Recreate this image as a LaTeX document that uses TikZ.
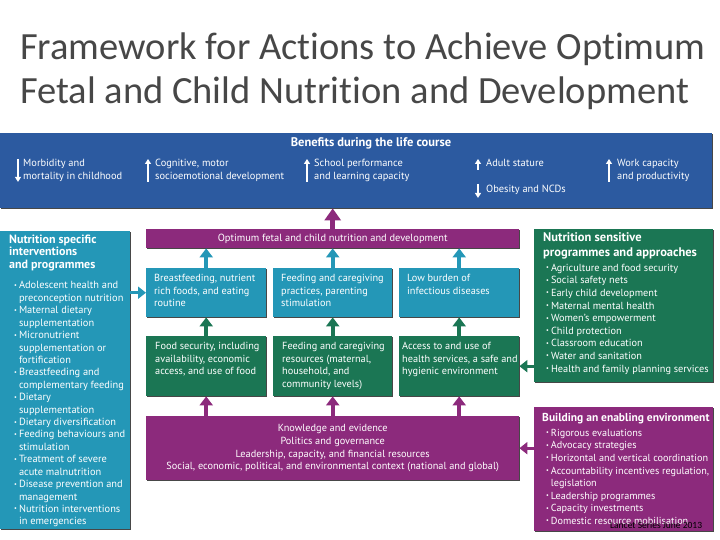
\documentclass[tikz,border=0pt]{standalone}
\usepackage{fontspec}
\setmainfont{PT Sans}
\newfontfamily\titlefont[Ligatures=NoCommon]{Carlito}
\usetikzlibrary{arrows.meta,shadows}

\definecolor{benblue}{RGB}{44,90,160}
\definecolor{nteal}{RGB}{36,151,183}
\definecolor{ngreen}{RGB}{27,118,84}
\definecolor{npurple}{RGB}{140,42,124}

\newcommand\bul{\raisebox{0.3ex}{\scalebox{0.6}{\textbullet}}}
\newcommand\hdr[2]{\multicolumn{2}{@{}l@{}}{\fontsize{#1}{12}\selectfont\bfseries #2}}

\begin{document}
\begin{tikzpicture}[x=1pt,y=-1pt,
  every node/.style={inner sep=0pt},
  panel/.style={rectangle, anchor=north west, drop shadow={shadow xshift=1.2pt,shadow yshift=-1.2pt,fill=black!80,opacity=0.9}},
  boxtext/.style={anchor=north west, text=white, align=left, font=\fontsize{10.3}{12.7}\selectfont},
  listtext/.style={anchor=north west, text=white},
  flow/.style={draw=#1, line width=3.6pt, -{Triangle[width=13pt,length=9pt,fill=#1]}},
  bigflow/.style={draw=#1, line width=5.5pt, -{Triangle[width=16pt,length=12pt,fill=#1]}},
  sideflow/.style={draw=#1, line width=3.4pt, -{Triangle[width=12pt,length=8pt,fill=#1]}},
  benarrow/.style={draw=white, line width=1.5pt, -{Triangle[width=6pt,length=5pt]}},
  bentext/.style={anchor=north west, text=white, align=left, font=\fontsize{10.4}{13}\selectfont}]

\useasboundingbox (0,0) rectangle (720,540);

\node[anchor=base west, font=\titlefont\fontsize{38.5}{44}\selectfont, text=black!72] (ttla) at (20,60) {Framework for Actions to Achieve Optimum};
\node[anchor=base west, font=\titlefont\fontsize{38.5}{44}\selectfont, text=black!72] (ttlb) at (20,104) {Fetal and Child Nutrition and Development};

\node[panel, fill=benblue, minimum width=712pt, minimum height=75pt] (life) at (0,133) {};
\node[font=\fontsize{12.5}{13}\selectfont\bfseries, text=white] (lifet) at (371,143) {Benefits during the life course};

\node[bentext] (morb) at (23,159) {Morbidity and\\mortality in childhood};
\node[bentext] (cogn) at (155,159) {Cognitive, motor\\socioemotional development};
\node[bentext] (school) at (314,159) {School performance\\and learning capacity};
\node[bentext] (stat) at (486,159) {Adult stature};
\node[bentext] (obes) at (486,185) {Obesity and NCDs};
\node[bentext] (work) at (617,159) {Work capacity\\and productivity};

\draw[benarrow] ([xshift=-5pt]morb.north west) -- ([xshift=-5pt]morb.south west);
\draw[benarrow] ([xshift=-7pt]cogn.south west) -- ([xshift=-7pt]cogn.north west);
\draw[benarrow] ([xshift=-7pt]school.south west) -- ([xshift=-7pt]school.north west);
\draw[benarrow] ([shift={(-8pt,-3pt)}]stat.south west) -- ([xshift=-8pt]stat.north west);
\draw[benarrow] ([shift={(-8pt,1pt)}]obes.north west) -- ([shift={(-8pt,-3pt)}]obes.south west);
\draw[benarrow] ([xshift=-8pt]work.south west) -- ([xshift=-8pt]work.north west);

\node[panel, fill=npurple, minimum width=373pt, minimum height=19pt, text=white, font=\fontsize{10.4}{12}\selectfont] (optbar) at (146,229) {Optimum fetal and child nutrition and development};

\node[panel, fill=nteal, minimum width=120pt, minimum height=49pt] (breast) at (146,268) {};
\node[panel, fill=nteal, minimum width=119pt, minimum height=49pt] (care) at (273,268) {};
\node[panel, fill=nteal, minimum width=120pt, minimum height=49pt] (burden) at (399,268) {};
\node[boxtext] (breastt) at ([shift={(8,6)}]breast.north west) {Breastfeeding, nutrient\\rich foods, and eating\\routine};
\node[boxtext] (caret) at ([shift={(8,6)}]care.north west) {Feeding and caregiving\\practices, parenting\\stimulation};
\node[boxtext] (burdent) at ([shift={(8,6)}]burden.north west) {Low burden of\\infectious diseases};

\node[panel, fill=ngreen, minimum width=120pt, minimum height=60pt] (food) at (146,336) {};
\node[panel, fill=ngreen, minimum width=119pt, minimum height=60pt] (resour) at (273,336) {};
\node[panel, fill=ngreen, minimum width=120pt, minimum height=60pt] (health) at (399,336) {};
\node[boxtext] (foodt) at ([shift={(9,6)}]food.north west) {Food security, including\\availability, economic\\access, and use of food};
\node[boxtext] (resourt) at ([shift={(9,6)}]resour.north west) {Feeding and caregiving\\resources (maternal,\\household, and\\community levels)};
\node[boxtext] (healtht) at ([shift={(3,6)}]health.north west) {Access to and use of\\health services, a safe and\\hygienic environment};

\node[panel, fill=npurple, minimum width=373pt, minimum height=64pt, align=center, text=white, font=\fontsize{10.3}{12.7}\selectfont] (context) at (146,416) {Knowledge and evidence\\Politics and governance\\Leadership, capacity, and financial resources\\Social, economic, political, and environmental context (national and global)};

\node[panel, fill=nteal, minimum width=130pt, minimum height=298pt] (specific) at (0,231) {};
\node[listtext, font=\fontsize{10.4}{12.42}\selectfont] (specifict) at ([shift={(9,3.3)}]specific.north west) {%
\begin{tabular}{@{}l@{\hspace{2pt}}l@{}}
\hdr{12}{Nutrition specific}\\
\hdr{12}{interventions}\\
\hdr{12}{and programmes}\\[8.5pt]
\hspace*{5pt}\bul & Adolescent health and\\
 & preconception nutrition\\
\hspace*{5pt}\bul & Maternal dietary\\
 & supplementation\\
\hspace*{5pt}\bul & Micronutrient\\
 & supplementation or\\
 & fortification\\
\hspace*{5pt}\bul & Breastfeeding and\\
 & complementary feeding\\
\hspace*{5pt}\bul & Dietary\\
 & supplementation\\
\hspace*{5pt}\bul & Dietary diversification\\
\hspace*{5pt}\bul & Feeding behaviours and\\
 & stimulation\\
\hspace*{5pt}\bul & Treatment of severe\\
 & acute malnutrition\\
\hspace*{5pt}\bul & Disease prevention and\\
 & management\\
\hspace*{5pt}\bul & Nutrition interventions\\
 & in emergencies
\end{tabular}};

\node[panel, fill=ngreen, minimum width=179pt, minimum height=153pt] (sensitive) at (534,229) {};
\node[listtext, font=\fontsize{10.3}{12.6}\selectfont] (sensitivet) at ([shift={(9,3.2)}]sensitive.north west) {%
\begin{tabular}{@{}l@{\hspace{2pt}}l@{}}
\hdr{12.5}{Nutrition sensitive}\\[2.4pt]
\hdr{12.5}{programmes and approaches}\\[2.4pt]
\hspace*{3pt}\bul & Agriculture and food security\\
\hspace*{3pt}\bul & Social safety nets\\
\hspace*{3pt}\bul & Early child development\\
\hspace*{3pt}\bul & Maternal mental health\\
\hspace*{3pt}\bul & Women’s empowerment\\
\hspace*{3pt}\bul & Child protection\\
\hspace*{3pt}\bul & Classroom education\\
\hspace*{3pt}\bul & Water and sanitation\\
\hspace*{3pt}\bul & Health and family planning services
\end{tabular}};

\node[panel, fill=npurple, minimum width=179pt, minimum height=124pt] (enabling) at (534,407) {};
\node[listtext, font=\fontsize{10.2}{12.6}\selectfont] (enablingt) at ([shift={(8,5.2)}]enabling.north west) {%
\begin{tabular}{@{}l@{\hspace{2pt}}l@{}}
\hdr{11.5}{Building an enabling environment}\\[2.4pt]
\hspace*{4pt}\bul & Rigorous evaluations\\
\hspace*{4pt}\bul & Advocacy strategies\\
\hspace*{4pt}\bul & Horizontal and vertical coordination\\
\hspace*{4pt}\bul & Accountability incentives regulation,\\
 & legislation\\
\hspace*{4pt}\bul & Leadership programmes\\
\hspace*{4pt}\bul & Capacity investments\\
\hspace*{4pt}\bul & Domestic resource mobilisation
\end{tabular}};

\draw[bigflow=npurple] (optbar.north) -- (optbar.north |- life.south);
\draw[flow=nteal] (breast.north) -- (breast.north |- optbar.south);
\draw[flow=nteal] (care.north) -- (care.north |- optbar.south);
\draw[flow=nteal] (burden.north) -- (burden.north |- optbar.south);
\draw[flow=ngreen] (food.north) -- (breast.south);
\draw[flow=ngreen] (resour.north) -- (care.south);
\draw[flow=ngreen] (health.north) -- (burden.south);
\draw[flow=npurple] (context.north -| food.north) -- (food.south);
\draw[flow=npurple] (context.north -| resour.north) -- (resour.south);
\draw[flow=npurple] (context.north -| health.north) -- (health.south);
\draw[sideflow=nteal] (specific.east |- breast.west) -- (breast.west);
\draw[sideflow=ngreen] (sensitive.west |- health.east) -- (health.east);
\draw[sideflow=npurple] (enabling.west |- context.east) -- (context.east);

\node[anchor=base west, font=\titlefont\fontsize{9.5}{11}\selectfont] (source) at (610,528) {Lancet Series June 2013};
\end{tikzpicture}
\end{document}
